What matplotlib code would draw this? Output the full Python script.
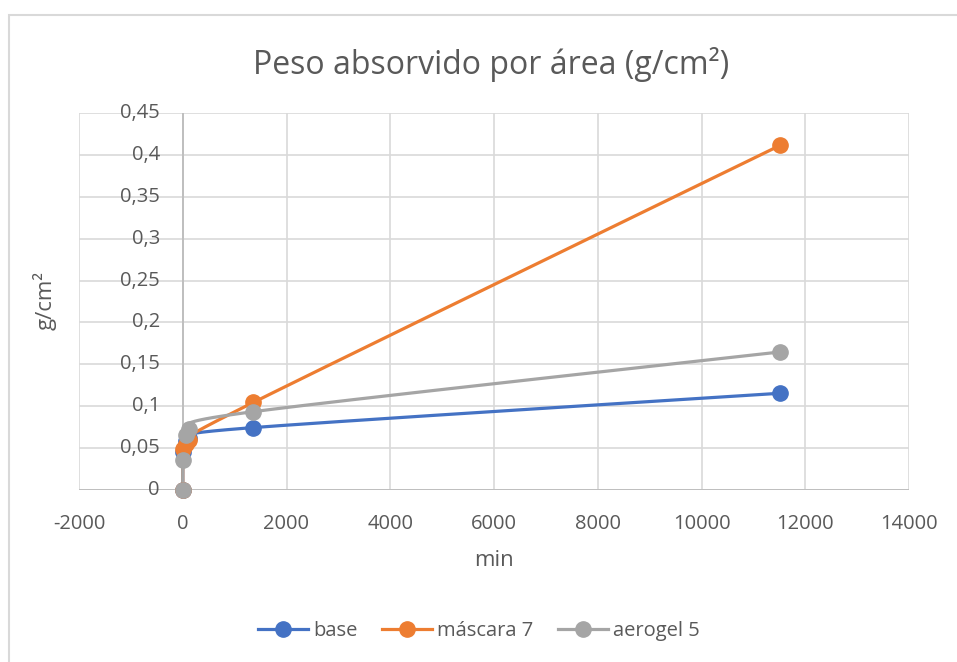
import numpy as np
import matplotlib
matplotlib.use("Agg")
import matplotlib.pyplot as plt
from matplotlib.lines import Line2D
from matplotlib.patches import Rectangle

plt.rcParams['font.family'] = ['Open Sans', 'DejaVu Sans']

# Data: absorbed weight per area (g/cm²) against time (min)
tiempo = [0, 5, 60, 120, 1360, 11520]
base = [0, 0.045, 0.058, 0.062, 0.0745, 0.1155]
mascara_7 = [0, 0.049, 0.055, 0.060, 0.1045, 0.4115]
aerogel_5 = [0, 0.036, 0.066, 0.0725, 0.0935, 0.1648]

series_names = ["base", "máscara 7", "aerogel 5"]
series_colors = ["#4472C4", "#ED7D31", "#A5A5A5"]

x_ticks = [-2000, 0, 2000, 4000, 6000, 8000, 10000, 12000, 14000]
y_ticks = [0, 0.05, 0.1, 0.15, 0.2, 0.25, 0.3, 0.35, 0.4, 0.45]
y_labels = ["0", "0,05", "0,1", "0,15", "0,2", "0,25", "0,3", "0,35", "0,4", "0,45"]


def smooth_curve(x, y, n=40):
    """Bezier-smoothed polyline through the points (spreadsheet-style)."""
    x = np.asarray(x, float)
    y = np.asarray(y, float)
    pts = np.column_stack([x, y])
    out = [pts[0:1]]
    for i in range(len(pts) - 1):
        p0 = pts[i - 1] if i > 0 else pts[i]
        p1 = pts[i]
        p2 = pts[i + 1]
        p3 = pts[i + 2] if i + 2 < len(pts) else pts[i + 1]
        c1 = p1 + (p2 - p0) / 6.0
        c2 = p2 - (p3 - p1) / 6.0
        t = np.linspace(0, 1, n)[1:, None]
        seg = ((1 - t) ** 3) * p1 + 3 * ((1 - t) ** 2) * t * c1 + 3 * (1 - t) * t ** 2 * c2 + t ** 3 * p2
        out.append(seg)
    c = np.vstack(out)
    return c[:, 0], c[:, 1]


fig = plt.figure(figsize=(9.57, 6.62), dpi=100)
W, H = 957, 662

# chart frame (top and left edges visible)
fig.add_artist(Rectangle((9 / W, -0.1), 1.2, (H - 15) / H + 0.1, transform=fig.transFigure,
                         fill=False, edgecolor="#D9D9D9", linewidth=1.5))

ax = fig.add_axes([79 / W, (H - 490) / H, (909 - 79) / W, (490 - 113) / H])
ax.set_xlim(-2000, 14000)
ax.set_ylim(0, 0.45)

for s in ax.spines.values():
    s.set_visible(False)
ax.set_xticks(x_ticks)
ax.set_yticks(y_ticks)
ax.grid(True, color="#D9D9D9", linewidth=1.2)
ax.set_axisbelow(True)
ax.tick_params(length=0, labelleft=False, labelbottom=False)

# axis lines at zero
ax.axhline(0, color="#BFBFBF", linewidth=1.4, zorder=1)
ax.axvline(0, color="#BFBFBF", linewidth=1.4, zorder=1)

# tick labels
tc = "#595959"
for xv in x_ticks:
    ax.text(xv, -0.040, str(xv), ha="center", va="center", fontsize=14.5, color=tc)
for yv, lab in zip(y_ticks, y_labels):
    ax.text(-440, yv, lab, ha="right", va="center", fontsize=14.5, color=tc)

for yv_list, name, col in zip([base, mascara_7, aerogel_5], series_names, series_colors):
    sx, sy = smooth_curve(tiempo, yv_list)
    ax.plot(sx, sy, color=col, linewidth=2.3, zorder=3, solid_capstyle="round")
    ax.plot(tiempo, yv_list, linestyle="none", marker="o", markersize=11,
            color=col, zorder=4, clip_on=False)

fig.text(491 / W, 1 - 64 / H, "Peso absorvido por área (g/cm²)", ha="center", va="center",
         fontsize=23, color=tc)
fig.text(494 / W, 1 - 561 / H, "min", ha="center", va="center", fontsize=16, color=tc)
fig.text(45 / W, 1 - 300 / H, "g/cm²", ha="center", va="center", fontsize=16,
         color=tc, rotation=90)

handles = [Line2D([0], [0], color=c, linewidth=2.3, marker="o", markersize=11) for c in series_colors]
fig.legend(handles, series_names, loc="center", bbox_to_anchor=(479 / W, 1 - 631 / H), ncol=3,
           frameon=False, fontsize=14.5, labelcolor=tc, handlelength=2.5, columnspacing=1.2,
           handletextpad=0.25)

fig.savefig("out.png", dpi=100)
